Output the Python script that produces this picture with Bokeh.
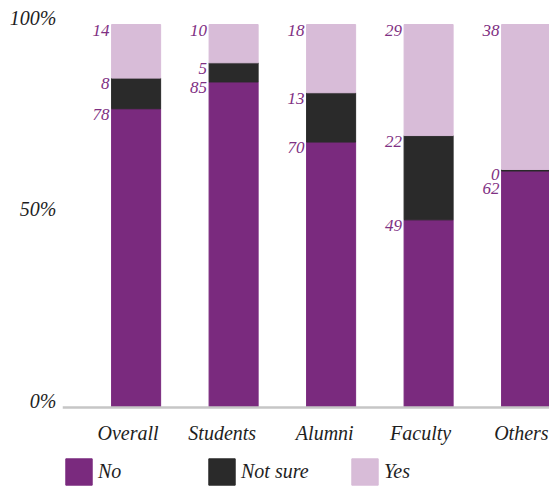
from bokeh.plotting import figure
from bokeh.models import ColumnDataSource, Legend, LegendItem, FixedTicker, Range1d, Span
from bokeh.embed import file_html
from bokeh.resources import INLINE
from bokeh.core.properties import value

# Survey answers by respondent group (percent)
groups = ["Overall", "Students", "Alumni", "Faculty", "Others"]
no = [78, 85, 70, 49, 62]
not_sure = [8, 5, 13, 22, 0.4]
yes = [14, 10, 18, 29, 38]

y_ticks = [0, 50, 100]
y_tick_labels = ["0%", "50%", "100%"]

PURPLE = "#7a2a7e"
DARK = "#2a2a2a"
LAVENDER = "#d8bcd8"
LABEL = "#7f3083"
INK = "#1e1e1e"
FONT = "Liberation Serif"

W, H = 549, 489
LEFT = 62
TOP_100 = 24                      # pixel row of the 100% line
PLOT_H = 383                      # pixels between 0% and 100%
HEADROOM = 8                      # pixels above the 100% line
px_per_unit = PLOT_H / 100
y_max = 100 + HEADROOM / px_per_unit
y_min = -(H - TOP_100 - PLOT_H) / px_per_unit   # room under the baseline for labels and legend

xs = list(range(len(groups)))
bar_w = 0.503

# 100% stacking: each bar is scaled by its own total
totals = [a + b + c for a, b, c in zip(no, not_sure, yes)]
share = lambda vals: [v / t * 100 for v, t in zip(vals, totals)]
no_s, ns_s, yes_s = share(no), share(not_sure), share(yes)
no_top = no_s
ns_top = [a + b for a, b in zip(no_top, ns_s)]
yes_top = [a + b for a, b in zip(ns_top, yes_s)]

p = figure(width=W, height=H, x_range=Range1d(-0.755, 4.24), y_range=Range1d(y_min, y_max),
           output_backend="svg", toolbar_location=None,
           min_border_left=LEFT, min_border_right=0, min_border_top=TOP_100 - HEADROOM,
           min_border_bottom=0)
p.outline_line_color = None
p.xgrid.visible = False
p.ygrid.visible = False
p.xaxis.visible = False
p.background_fill_color = "white"

r_no = p.vbar(x=xs, bottom=0, top=no_top, width=bar_w, color=PURPLE)
r_ns = p.vbar(x=xs, bottom=no_top, top=ns_top, width=bar_w, color=DARK)
r_yes = p.vbar(x=xs, bottom=ns_top, top=yes_top, width=bar_w, color=LAVENDER)

# baseline
p.add_layout(Span(location=0, dimension="width", line_color="#c6c6c6", line_width=2.5))

# value labels at the top-left of each segment, nudged down when they would collide
line_h = 14
lx, ly, lt, loff = [], [], [], []
for i in xs:
    prev_bottom = None
    for top, v in ((yes_top[i], yes[i]), (ns_top[i], not_sure[i]), (no_top[i], no[i])):
        sy = (100 - top) * px_per_unit
        off = 0
        if prev_bottom is not None and sy < prev_bottom:
            off = prev_bottom - sy
        prev_bottom = sy + off + line_h
        lx.append(i - bar_w / 2)
        ly.append(top)
        lt.append(str(round(v)))
        loff.append(off)

src = ColumnDataSource(dict(x=lx, y=ly, text=lt, off=loff))
p.text(x="x", y="y", text="text", source=src, x_offset=-2, y_offset="off",
       text_align="right", text_baseline="top", text_color=LABEL,
       text_font=value(FONT), text_font_style="italic", text_font_size="17px")

# group names, right-aligned with the bar edges under the baseline
cat_src = ColumnDataSource(dict(x=[i + bar_w / 2 for i in xs], y=[0] * len(xs), text=groups))
p.text(x="x", y="y", text="text", source=cat_src, x_offset=-2, y_offset=25,
       text_align="right", text_baseline="alphabetic", text_color=INK,
       text_font=value(FONT), text_font_style="italic", text_font_size="20px")

# y axis: labels sit on their value line rather than centred on it
lift = 7 / px_per_unit
ya = p.yaxis[0]
tick_pos = [t + lift for t in y_ticks]
ya.ticker = FixedTicker(ticks=tick_pos)
ya.major_label_overrides = {t: s for t, s in zip(tick_pos, y_tick_labels)}
ya.axis_line_color = None
ya.major_tick_line_color = None
ya.minor_tick_line_color = None
ya.major_label_standoff = 0
ya.major_label_text_font = FONT
ya.major_label_text_font_style = "italic"
ya.major_label_text_font_size = "20px"
ya.major_label_text_color = INK

legend = Legend(items=[LegendItem(label="No", renderers=[r_no]),
                       LegendItem(label="Not sure", renderers=[r_ns]),
                       LegendItem(label="Yes", renderers=[r_yes])],
                location=(0, 1), orientation="horizontal",
                glyph_width=33, glyph_height=33, label_width=107,
                label_standoff=3, spacing=0, padding=0, margin=0,
                border_line_color=None, background_fill_alpha=0,
                label_text_font=FONT, label_text_font_style="italic",
                label_text_font_size="20px",
                label_text_color=INK)
p.add_layout(legend, "center")

open("out.html", "w").write(file_html(p, INLINE))
